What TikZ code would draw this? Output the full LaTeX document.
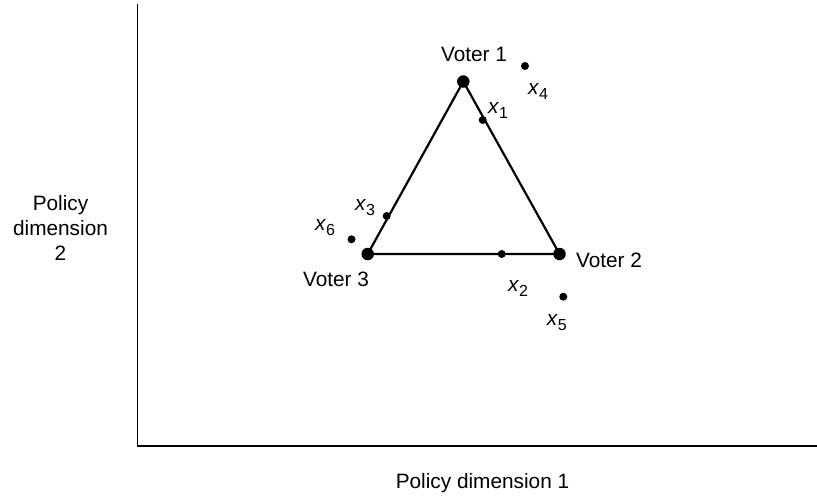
\documentclass[tikz,border=0pt]{standalone}
\usepackage{fontspec}
\setmainfont{Liberation Sans}
\newcommand{\xsub}[1]{\textit{x}\raisebox{-5pt}{\fontsize{16}{16}\selectfont #1}}
\begin{document}
\begin{tikzpicture}[x=1pt,y=-1pt,
  bigdot/.style={circle,fill=black,inner sep=0pt,minimum size=12.5pt},
  smalldot/.style={circle,fill=black,inner sep=0pt,minimum size=8pt},
  lbl/.style={inner sep=0pt,font=\fontsize{20.8}{25}\selectfont},
  axis/.style={line width=1.4pt},
  edge/.style={line width=2.2pt}]
\useasboundingbox (0,0) rectangle (817,496);
% axes
\coordinate (ytop) at (137.5,4);
\coordinate (orig) at (137.5,446);
\coordinate (xend) at (817,446);
\draw[axis] (ytop) -- (orig) -- (xend);
% voters
\node[bigdot] (v1) at (463.3,81.5) {};
\node[bigdot] (v2) at (559.5,254) {};
\node[bigdot] (v3) at (367.7,254) {};
\draw[edge,line join=round] (v1.center) -- (v2.center) -- (v3.center) -- cycle;
% points
\node[smalldot] (p1) at (482.7,120) {};
\node[smalldot] (p2) at (501.7,254) {};
\node[smalldot] (p3) at (386.7,216) {};
\node[smalldot] (p4) at (525,66) {};
\node[smalldot] (p5) at (563.3,296.7) {};
\node[smalldot] (p6) at (351.5,239.3) {};
% labels
\node[lbl,anchor=base] (l1) at (474,61.7) {Voter 1};
\node[lbl,anchor=base] (l2) at (609,267) {Voter 2};
\node[lbl,anchor=base] (l3) at (336,286.7) {Voter 3};
\node[lbl,anchor=base west] (t1) at (488,113) {\xsub{1}};
\node[lbl,anchor=base west] (t2) at (508,291.7) {\xsub{2}};
\node[lbl,anchor=base west] (t3) at (355,210.7) {\xsub{3}};
\node[lbl,anchor=base west] (t4) at (528,94.3) {\xsub{4}};
\node[lbl,anchor=base west] (t5) at (546.7,325) {\xsub{5}};
\node[lbl,anchor=base west] (t6) at (315,230) {\xsub{6}};
\node[lbl,anchor=base] (ax1) at (482.5,488.3) {Policy dimension 1};
\node[lbl,anchor=base,align=center] (ax2) at (60.5,260) {Policy\\dimension\\2};
\end{tikzpicture}
\end{document}
